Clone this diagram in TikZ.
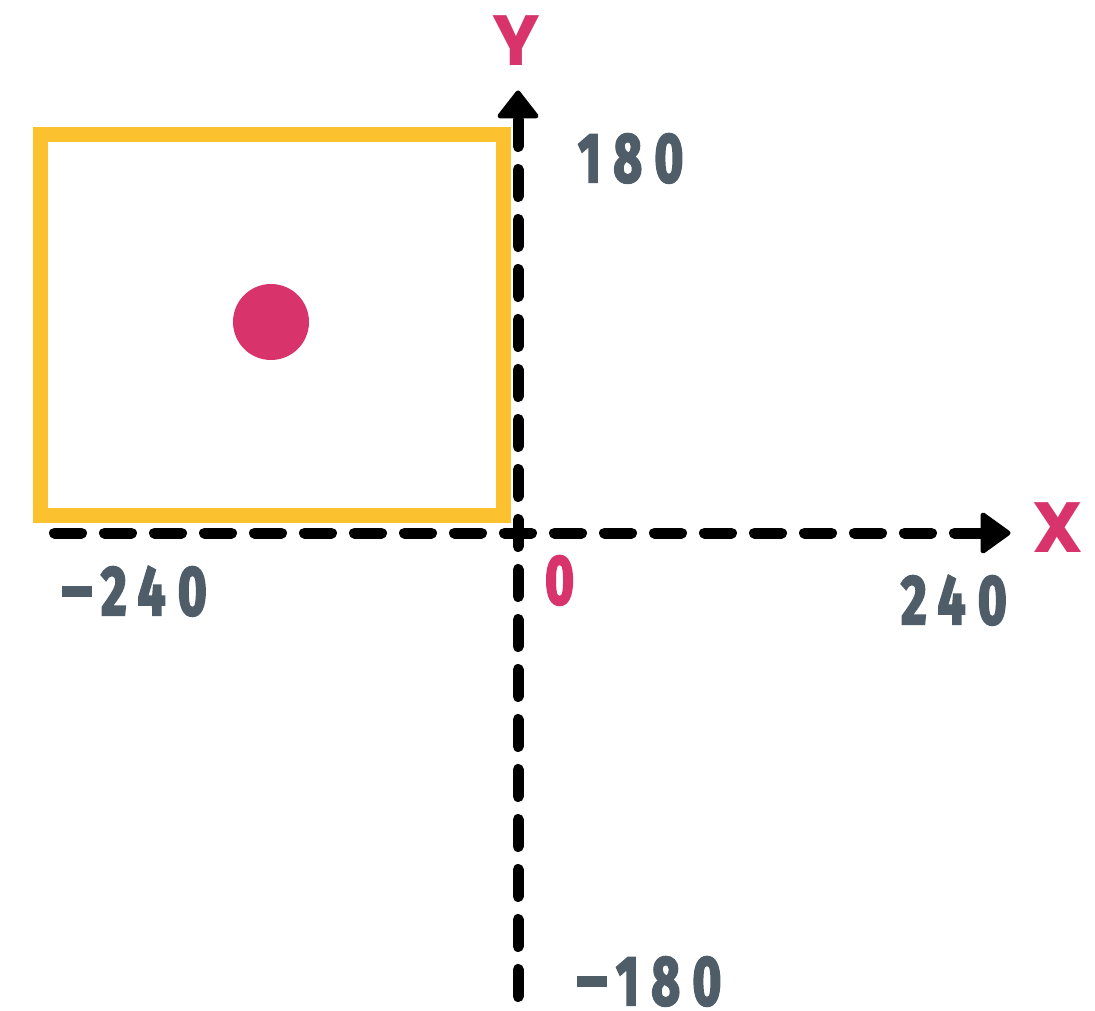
\documentclass[tikz,border=0pt]{standalone}
\usepackage{fontspec}
\newfontfamily\numfont{Fira Sans}[FakeStretch=0.7,FakeBold=3,LetterSpace=18]
\newfontfamily\axfont{Poppins}
\definecolor{axpink}{HTML}{D8346B}
\definecolor{numgrey}{HTML}{4E5D68}
\definecolor{boxyellow}{HTML}{FCC12E}
\newcommand{\negsign}{\rule[18pt]{30pt}{11pt}\hspace{9pt}}
\tikzset{
  axisline/.style={line width=11pt, line cap=round, dash pattern=on 27pt off 23pt, dash phase=0pt},
  headtip/.style={fill=black, draw=black, line width=5pt, line join=round},
  numlabel/.style={inner sep=0pt, text depth=0pt, text=numgrey, font=\numfont\bfseries\fontsize{70}{70}\selectfont, anchor=base west},
  axlabel/.style={inner sep=0pt, text=axpink, font=\axfont\bfseries\fontsize{71}{71}\selectfont},
  framebox/.style={draw=boxyellow, line width=15pt},
}
\begin{document}
\begin{tikzpicture}[x=1pt,y=-1pt]
\useasboundingbox[fill=white] (0,0) rectangle (1095,1011);
% yellow frame and dot
\draw[framebox] (40.5,134.5) rectangle (503,515);
\fill[axpink] (271,322) circle (38);
% axis coordinates
\coordinate (xstart) at (54.5,533);
\coordinate (xend) at (985,533);
\coordinate (ystart) at (518,996.5);
\coordinate (yend) at (518,112);
\draw[axisline] (xstart) -- (xend);
\draw[axisline] (ystart) -- (yend);
% arrowheads
\draw[headtip] (1008,533) -- (983,515) -- (983,551) -- cycle;
\draw[headtip] (518,93) -- (500,116) -- (536,116) -- cycle;
% labels
\node[axlabel] (ylab) at (516,41) {Y};
\node[axlabel] (xlab) at (1058,528) {X};
\node[numlabel] (n180) at (578,182) {180};
\node[numlabel] (n240) at (901,624) {240};
\node[numlabel] (nm240) at (62,615) {\negsign240};
\node[numlabel] (nm180) at (577,1005) {\negsign180};
\node[numlabel, text=axpink] (n0) at (545,604) {0};
\end{tikzpicture}
\end{document}
